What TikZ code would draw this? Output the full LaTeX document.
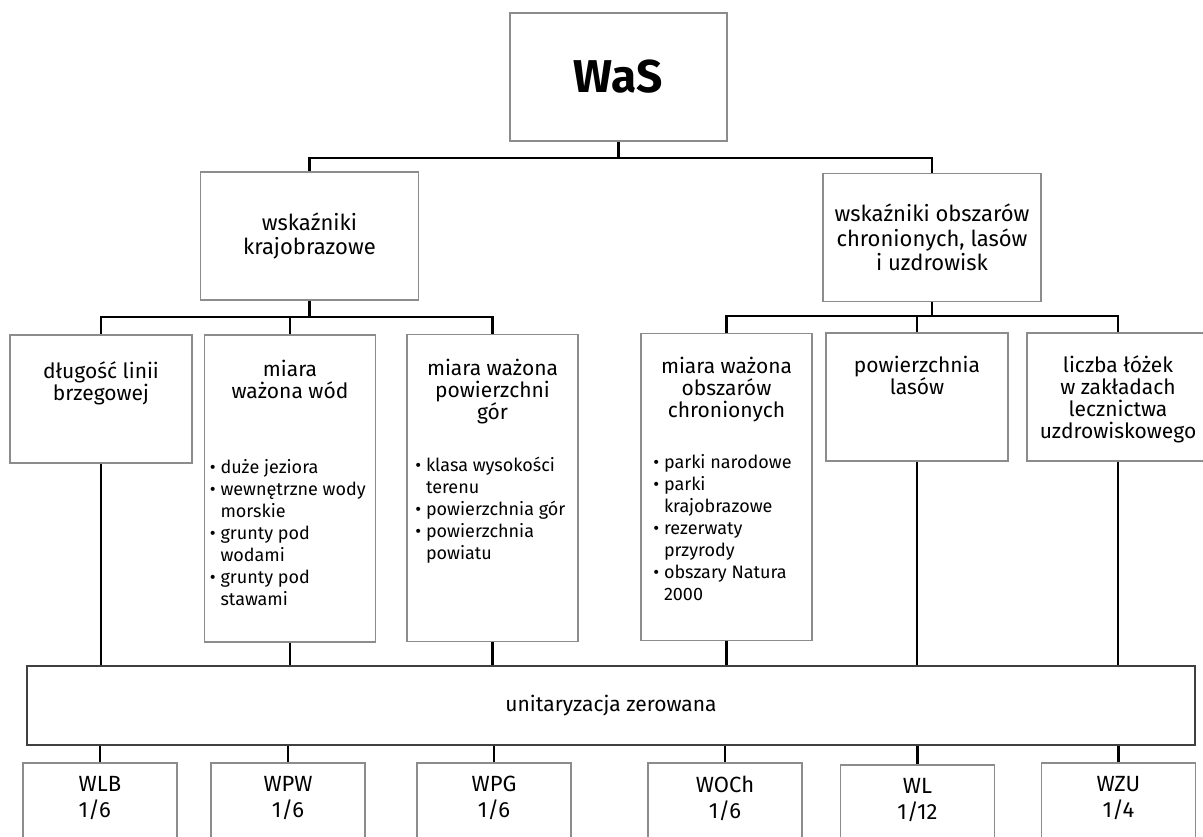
\documentclass[tikz,border=0pt]{standalone}
\usepackage{fontspec}
\setmainfont{Fira Sans}
\usetikzlibrary{positioning}

\begin{document}
\begin{tikzpicture}[
    x=1pt, y=-1pt,
    box/.style={rectangle, draw=black!45, line width=1.6pt, inner sep=0pt, align=center},
    was_style/.style={box, minimum width=217pt, minimum height=128pt, font=\fontsize{46}{50}\selectfont\bfseries},
    mid/.style={box, minimum width=218pt, minimum height=128pt, font=\fontsize{22}{24.5}\selectfont},
    short/.style={box, minimum width=182pt, minimum height=128pt},
    tall/.style={box, minimum width=171pt, minimum height=307pt},
    unit_style/.style={rectangle, draw=black!75, line width=1.2pt, minimum width=1168pt, minimum height=79pt, font=\fontsize{21}{22}\selectfont},
    wbox/.style={box, minimum width=154pt, minimum height=120pt},
    txt/.style={inner sep=0pt, align=center, font=\fontsize{21}{22}\selectfont, execute at begin node=\strut},
    wtxt/.style={txt, font=\fontsize{22}{25.5}\selectfont},
    list_style/.style={inner sep=0pt, align=left, font=\fontsize{18}{22}\selectfont, execute at begin node=\strut},
    link/.style={draw=black, line width=2.2pt}
]
\useasboundingbox[fill=white] (0,0) rectangle (1203,837);

% top
\node[was_style] (was) at (618.5,77) {WaS};
\node[mid] (krajo) at (309.5,236) {wskaźniki\\krajobrazowe};
\node[mid] (chron) at (932,237.5) {wskaźniki obszarów\\chronionych, lasów\\i uzdrowisk};

% indicators
\node[short] (dlb) at (101,399) {};
\node[tall] (wod) at (290,488.5) {};
\node[tall] (gor) at (492.5,488) {};
\node[tall] (och) at (726.5,487) {};
\node[short] (las) at (917,397) {};
\node[short] (uzd) at (1118,397) {};

\node[txt, below=27pt of dlb.north] (dlb_txt) {długość linii\\brzegowej};
\node[txt, below=26pt of wod.north] (wod_txt) {miara\\ważona wód};
\node[txt, below=25pt of gor.north] (gor_txt) {miara ważona\\powierzchni\\gór};
\node[txt, below=24pt of och.north] (och_txt) {miara ważona\\obszarów\\chronionych};
\node[txt, below=24pt of las.north] (las_txt) {powierzchnia\\lasów};
\node[txt, below=23pt of uzd.north] (uzd_txt) {liczba łóżek\\w zakładach\\lecznictwa\\uzdrowiskowego};

\node[list_style, below right=125pt and 6pt of wod.north west] (wod_list)
    {• duże jeziora\\• wewnętrzne wody\\\hphantom{• }morskie\\• grunty pod\\\hphantom{• }wodami\\• grunty pod\\\hphantom{• }stawami};
\node[list_style, below right=123pt and 9pt of gor.north west] (gor_list)
    {• klasa wysokości\\\hphantom{• }terenu\\• powierzchnia gór\\• powierzchnia\\\hphantom{• }powiatu};
\node[list_style, below right=122pt and 13pt of och.north west] (och_list)
    {• parki narodowe\\• parki\\\hphantom{• }krajobrazowe\\• rezerwaty\\\hphantom{• }przyrody\\• obszary Natura\\\hphantom{• }2000};

% normalisation
\node[unit_style] (unit) at (611,705.5) {unitaryzacja zerowana};

% weights
\node[wbox] (wlb) at (100,823) {};
\node[wbox] (wpw) at (288,823) {};
\node[wbox] (wpg) at (494,823) {};
\node[wbox] (woch) at (725,823) {};
\node[wbox] (wl) at (917.5,825) {};
\node[wbox] (wzu) at (1118.5,823) {};

\node[wtxt, align=left, below=14pt of wlb.north] (wlb_txt) {WLB\\1/6};
\node[wtxt, below=14pt of wpw.north] (wpw_txt) {WPW\\1/6};
\node[wtxt, below=14pt of wpg.north] (wpg_txt) {WPG\\1/6};
\node[wtxt, below=14pt of woch.north] (woch_txt) {WOCh\\1/6};
\node[wtxt, below=14pt of wl.north] (wl_txt) {WL\\1/12};
\node[wtxt, below=14pt of wzu.north] (wzu_txt) {WZU\\1/4};

% connectors
\draw[link] (was.south) -- ++(0,16) coordinate (was_bar);
\draw[link] (krajo.north) |- (was_bar) -| (chron.north);

\draw[link] (krajo.south) -- ++(0,16) coordinate (krajo_bar);
\draw[link] (dlb.north) |- (krajo_bar) -| (gor.north);
\draw[link] (wod.north) -- (wod.north |- krajo_bar);

\draw[link] (chron.south) -- ++(0,14) coordinate (chron_bar);
\draw[link] (och.north) |- (chron_bar) -| (uzd.north);
\draw[link] (las.north) -- (las.north |- chron_bar);

\foreach \n in {dlb,wod,gor,och,las,uzd}
    \draw[link] (\n.south) -- (\n.south |- unit.north);
\foreach \n in {wlb,wpw,wpg,woch,wl,wzu}
    \draw[link] (\n.north) -- (\n.north |- unit.south);

\end{tikzpicture}
\end{document}
